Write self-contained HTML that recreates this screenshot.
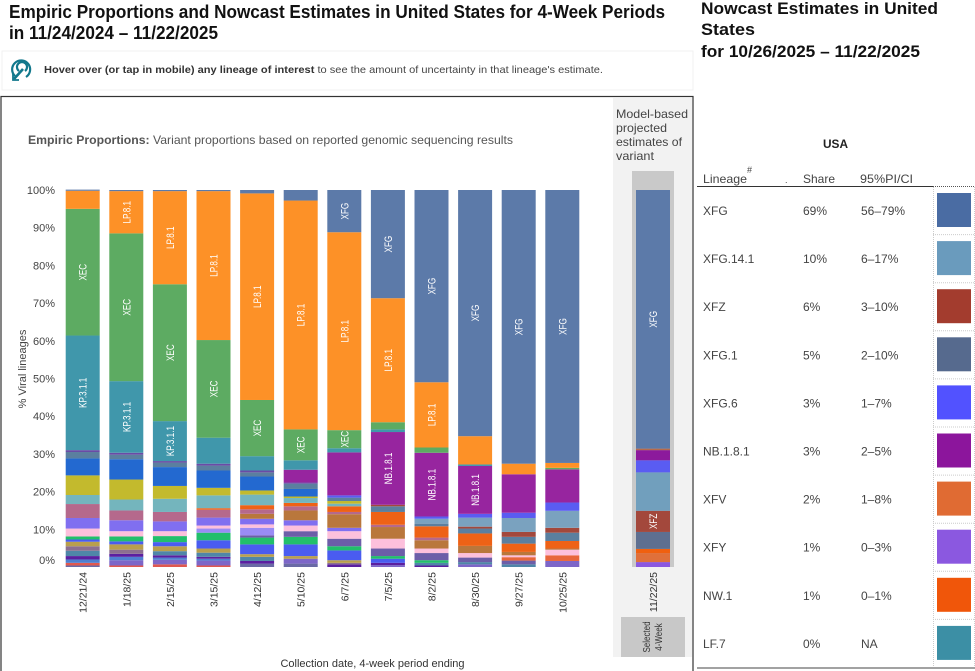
<!DOCTYPE html>
<html lang="en">
<head>
<meta charset="utf-8">
<title>Empiric Proportions and Nowcast Estimates</title>
<style>
html,body{margin:0;padding:0;background:#fff;}
svg{display:block;font-family:"Liberation Sans",sans-serif;}
</style>
</head>
<body>
<svg id="chart" width="975" height="671" viewBox="0 0 975 671" xmlns="http://www.w3.org/2000/svg">
  <text x="9" y="18" font-size="18" font-weight="700" fill="#111" textLength="656" lengthAdjust="spacingAndGlyphs">Empiric Proportions and Nowcast Estimates in United States for 4-Week Periods</text>
  <text x="9" y="39" font-size="18" font-weight="700" fill="#111" textLength="209" lengthAdjust="spacingAndGlyphs">in 11/24/2024 – 11/22/2025</text>

  <rect x="2" y="51" width="691" height="39" fill="#fff" stroke="#f1f1f1" stroke-width="1"/>
  <g fill="none" stroke="#12788c" stroke-width="2.2">
    <path d="M15 76 A9 9 0 1 1 26 77"/>
    <path d="M19 71 A5 5 0 1 1 25 71"/>
    <path d="M23 69 L14 79" stroke-width="2.6"/>
    <path d="M13 74 L13 80 L19 80" stroke-width="1.8"/>
  </g>
  <text x="44" y="73" font-size="10.5" fill="#444" textLength="559" lengthAdjust="spacingAndGlyphs"><tspan font-weight="700" fill="#333">Hover over (or tap in mobile) any lineage of interest</tspan> to see the amount of uncertainty in that lineage's estimate.</text>

  <rect x="1" y="96.5" width="692" height="580" fill="#fff" stroke="#333" stroke-width="1.2"/>
  <rect x="613" y="98" width="79" height="559" fill="#f2f2f2"/>

  <text x="28" y="144" font-size="12" fill="#555" textLength="485" lengthAdjust="spacingAndGlyphs"><tspan font-weight="700">Empiric Proportions:</tspan> Variant proportions based on reported genomic sequencing results</text>

  <g font-size="12" fill="#444">
    <text x="616" y="118" textLength="72" lengthAdjust="spacingAndGlyphs">Model-based</text>
    <text x="616" y="132" textLength="51" lengthAdjust="spacingAndGlyphs">projected</text>
    <text x="616" y="146" textLength="66" lengthAdjust="spacingAndGlyphs">estimates of</text>
    <text x="616" y="160" textLength="38" lengthAdjust="spacingAndGlyphs">variant</text>
  </g>

  <rect x="632" y="171" width="42" height="396" fill="#c9c9c9"/>

  <g id="y-axis"></g>
  <g id="bars"></g>
  <g id="nowcast"></g>
  <g id="x-axis"></g>

  <text transform="translate(26,369) rotate(-90)" text-anchor="middle" font-size="11" fill="#444">% Viral lineages</text>
  <text x="372.5" y="667" text-anchor="middle" font-size="11" fill="#333">Collection date, 4-week period ending</text>

  <rect x="621" y="617" width="64" height="40" fill="#c8c8c8"/>
  <g font-size="10" fill="#333" text-anchor="middle">
    <text transform="translate(650,637) rotate(-90) scale(.8,1)">Selected</text>
    <text transform="translate(662,637) rotate(-90) scale(.8,1)">4-Week</text>
  </g>

  <g font-size="17" font-weight="700" fill="#111">
    <text x="701" y="14" textLength="237" lengthAdjust="spacingAndGlyphs">Nowcast Estimates in United</text>
    <text x="701" y="35" textLength="54" lengthAdjust="spacingAndGlyphs">States</text>
    <text x="701" y="57" textLength="219" lengthAdjust="spacingAndGlyphs">for 10/26/2025 – 11/22/2025</text>
  </g>

  <g id="table" font-size="12" fill="#444">
    <text x="835.5" y="148" text-anchor="middle" font-size="12" font-weight="700" fill="#222" textLength="25" lengthAdjust="spacingAndGlyphs">USA</text>
    <text x="703" y="183" textLength="44" lengthAdjust="spacingAndGlyphs">Lineage</text>
    <text x="747" y="173" font-size="9">#</text>
    <text x="785" y="183" font-size="9">.</text>
    <text x="803" y="183" textLength="32" lengthAdjust="spacingAndGlyphs">Share</text>
    <text x="860" y="183" textLength="53" lengthAdjust="spacingAndGlyphs">95%PI/CI</text>
    <line x1="697" y1="186.5" x2="933" y2="186.5" stroke="#333" stroke-width="1"/>
    <line x1="933" y1="186.5" x2="975" y2="186.5" stroke="#555" stroke-width="1" stroke-dasharray="1 1"/>
    <line x1="697" y1="668" x2="975" y2="668" stroke="#444" stroke-width="1"/>
    <line x1="933.5" y1="187" x2="933.5" y2="667" stroke="#ccc" stroke-width="1" stroke-dasharray="1 1"/>
    <line x1="974.5" y1="187" x2="974.5" y2="667" stroke="#ccc" stroke-width="1" stroke-dasharray="1 1"/>
  </g>
</svg>

<script>
const periods = ["12/21/24","1/18/25","2/15/25","3/15/25","4/12/25","5/10/25","6/7/25","7/5/25","8/2/25","8/30/25","9/27/25","10/25/25"];
const yTicks = [0,10,20,30,40,50,60,70,80,90,100];

const xfg      = [.3,.3,.3,.3,.9,2.8,11.2,28.7,51,65.3,72.6,72.4];
const lp81     = [4.8,11.2,24.7,39.5,54.8,60.7,52.5,32.9,17.3,7.5,2.8,1.3];
const xec      = [33.6,39.2,36.3,25.9,14.9,8.2,4.8,1.9,1.4,0,0,.4];
const kp311    = [30.4,19,10.6,6.9,3.8,2.5,1.1,.7,0,.4,0,0];
const nb181    = [0,0,0,0,0,3.4,11.4,19.3,16.9,12.7,10.2,8.8];
const xfg6     = [0,0,0,0,0,0,.6,0,.6,1,1.4,2.2];
const xfg141   = [0,0,0,0,0,0,0,0,1.3,2.4,3.7,4.5];
const xfz      = [0,0,0,0,0,0,0,.4,0,.5,1.3,1.3];
const thinViolet = [.5,.5,.4,.5,.5,.3,0,0,0,0,0,0];
const xfg1     = [1.7,1.2,1.2,1.3,1.1,1.4,.9,1.5,.7,1.3,1.8,2.2];
const royalBlue = [4.5,5.4,5,4.6,3.7,2,0,0,0,0,0,0];
const olive    = [5.2,5.3,3.4,2,1.1,.4,.7,0,0,0,0,0];
const paleTeal = [2.4,2.9,3.5,3.4,2.8,1.3,.7,0,0,0,0,0];
const nw1      = [0,0,0,.4,1.1,.9,1.5,3.4,3,3.3,2.2,2];
const mauve    = [3.7,2.6,2.5,2.1,1.2,1.1,.6,.6,.7,0,0,0];
const xfv      = [0,0,0,0,1.3,2.6,3.6,3.1,2.2,1.9,.9,.3];
const violet   = [2.8,2.9,2.6,2.1,1.5,1.4,.9,0,0,0,0,0];
const pink     = [2.1,1.4,1.3,.8,.9,1.5,2,2.6,1.2,1.2,.5,1.5];
const lavender = [0,0,0,1.1,2,0,0,0,0,0,0,0];
const salmon   = [0,0,0,0,0,0,0,0,0,0,.9,1.5];
const slatePurple = [0,0,0,0,.6,1.5,2,2,1.9,1.2,1,0];
const green    = [.8,1.3,1.6,2,1.8,2,1.1,.7,.7,0,0,0];
const brightBlue = [.6,.8,1.1,2.2,2.6,3.1,2.6,1.1,0,0,0,0];
const khaki    = [1.2,1.4,1.3,1.1,.7,.7,.7,0,0,0,0,0];
const grayMauve = [1.2,1.1,0,0,0,0,.4,0,0,0,0,0];
const grayBlue = [1.4,0,1.1,1.1,1.1,0,0,0,.7,.6,.7,0];
const darkPurple = [.9,.8,.6,.5,.7,0,.7,.6,.4,0,0,0];
const midBlue  = [.9,.9,.6,.5,0,0,0,0,0,0,0,0];
const softPurple = [0,1.4,1.2,1.3,0,1.3,0,.5,0,.7,0,1.6];
const red      = [.7,.4,.7,.4,0,0,0,0,0,0,0,0];
const slate    = [.4,0,0,0,.9,.9,0,0,0,0,0,0];

const seriesNames = ["XFG","LP.8.1","XEC","KP.3.1.1","NB.1.8.1","XFG.6","XFG.14.1","XFZ","thin-violet","XFG.1","royal-blue","olive","pale-teal","NW.1","mauve","XFV","violet","pink","lavender","salmon","slate-purple","green","bright-blue","khaki","gray-mauve","gray-blue","dark-purple","mid-blue","soft-purple","red","slate"];
const seriesValues = [xfg,lp81,xec,kp311,nb181,xfg6,xfg141,xfz,thinViolet,xfg1,royalBlue,olive,paleTeal,nw1,mauve,xfv,violet,pink,lavender,salmon,slatePurple,green,brightBlue,khaki,grayMauve,grayBlue,darkPurple,midBlue,softPurple,red,slate];
const seriesColors = ["#5c7aa9","#fd9127","#5dab62","#4097ab","#97259f","#5a5cf2","#7aa2bf","#a3483c","#6a4ba6","#5b7f9f","#2369d0","#c3ba2d","#74b5bd","#ee6216","#b5698c","#b9773c","#806ff0","#fdc0dc","#9a8cf5","#e8663c","#6c5ea8","#22bf6b","#4a5cf0","#b99f4d","#8c6f90","#4f86a8","#5b1fa0","#4f7fd0","#7d66c8","#e0584f","#6a6aa5"];

const nowcastPeriod = "11/22/25";
const nowcastNames = ["XFG","LF.7","NB.1.8.1","XFG.6","XFG.14.1","XFZ","XFG.1","NW.1","XFV","XFY"];
const nowcastValues = [68.6,.4,2.7,3.2,10.2,5.6,4.5,1.1,2.4,1.3];
const nowcastColors = ["#5c7aa9","#b86b4a","#8c1a9c","#5a5cf2","#719fbd","#a3483c","#5e6f90","#f0600f","#e0703a","#8b58e0"];

const tableLineages = ["XFG","XFG.14.1","XFZ","XFG.1","XFG.6","NB.1.8.1","XFV","XFY","NW.1","LF.7"];
const tableShares = ["69%","10%","6%","5%","3%","3%","2%","1%","1%","0%"];
const tableIntervals = ["56–79%","6–17%","3–10%","2–10%","1–7%","2–5%","1–8%","0–3%","0–1%","NA"];
const tableColors = ["#4a6ca3","#6a9bbd","#a33c2e","#566a8e","#5252ff","#8c159c","#e06b33","#8b58e0","#f0560a","#3c8fa5"];

const labelMinimums = {"XFG":8,"LP.8.1":9,"XEC":4.5,"KP.3.1.1":10,"NB.1.8.1":12,"XFZ":4};

const NS = "http://www.w3.org/2000/svg";
const yScale = v => 567 - v * 3.77;
const xScale = i => 65.7 + i * 43.6;
const barWidth = 34;

function make(tag, parent, attrs) {
  const el = document.createElementNS(NS, tag);
  for (const k in attrs) el.setAttribute(k, attrs[k]);
  parent.appendChild(el);
  return el;
}

function drawSegment(parent, x, low, value, color, name) {
  const rect = make("rect", parent, {x: x, y: yScale(low + value), width: barWidth, height: value * 3.77, fill: color});
  
  
  const min = labelMinimums[name];
  if (min !== undefined && value >= min) {
    const cx = x + barWidth / 2;
    const cy = yScale(low + value / 2);
    const label = make("text", parent, {transform: "translate(" + (cx + 4) + "," + cy + ") rotate(-90) scale(.74,1)", "text-anchor": "middle", "font-size": 11, fill: "#fff"});
    
    
    label.textContent = name;
  }
}

const yAxis = document.getElementById("y-axis");
yTicks.forEach(t => {
  const label = make("text", yAxis, {x: 55, y: Math.min(yScale(t) + 4, 564), "text-anchor": "end", "font-size": 11, fill: "#444"});
  
  
  label.textContent = t + "%";
});

const barsGroup = document.getElementById("bars");
periods.forEach((period, i) => {
  let low = 0;
  for (let s = seriesValues.length - 1; s >= 0; s--) {
    const value = seriesValues[s][i];
    if (value > 0) {
      drawSegment(barsGroup, xScale(i), low, value, seriesColors[s], seriesNames[s]);
      low += value;
    }
  }
});

const nowcastGroup = document.getElementById("nowcast");
let nowcastLow = 0;
for (let s = nowcastValues.length - 1; s >= 0; s--) {
  drawSegment(nowcastGroup, 636, nowcastLow, nowcastValues[s], nowcastColors[s], nowcastNames[s]);
  nowcastLow += nowcastValues[s];
}

const xAxis = document.getElementById("x-axis");
periods.forEach((period, i) => {
  const label = make("text", xAxis, {transform: "translate(" + (xScale(i) + barWidth / 2 + 4) + ",572) rotate(-90)", "text-anchor": "end", "font-size": 10.5, fill: "#333"});
  
  
  label.textContent = period;
});
const nowcastTick = make("text", xAxis, {transform: "translate(657,572) rotate(-90)", "text-anchor": "end", "font-size": 10.5, fill: "#333"});


nowcastTick.textContent = nowcastPeriod;

const table = document.getElementById("table");
tableLineages.forEach((lineage, i) => {
  const cy = 211 + i * 48.1;
  const a = make("text", table, {x: 703, y: cy + 4});
  
  
  a.textContent = lineage;
  const b = make("text", table, {x: 803, y: cy + 4});
  
  
  b.textContent = tableShares[i];
  const c = make("text", table, {x: 861, y: cy + 4});
  
  
  c.textContent = tableIntervals[i];
  const sw = make("rect", table, {x: 937, y: cy - 18, width: 34, height: 34, fill: tableColors[i]});
  
  
  if (i > 0) {
    const sep = make("line", table, {x1: 933, x2: 975, y1: cy - 24.5, y2: cy - 24.5, stroke: "#ccc", "stroke-dasharray": "1 1"});
    
    
  }
});
</script>
</body>
</html>
